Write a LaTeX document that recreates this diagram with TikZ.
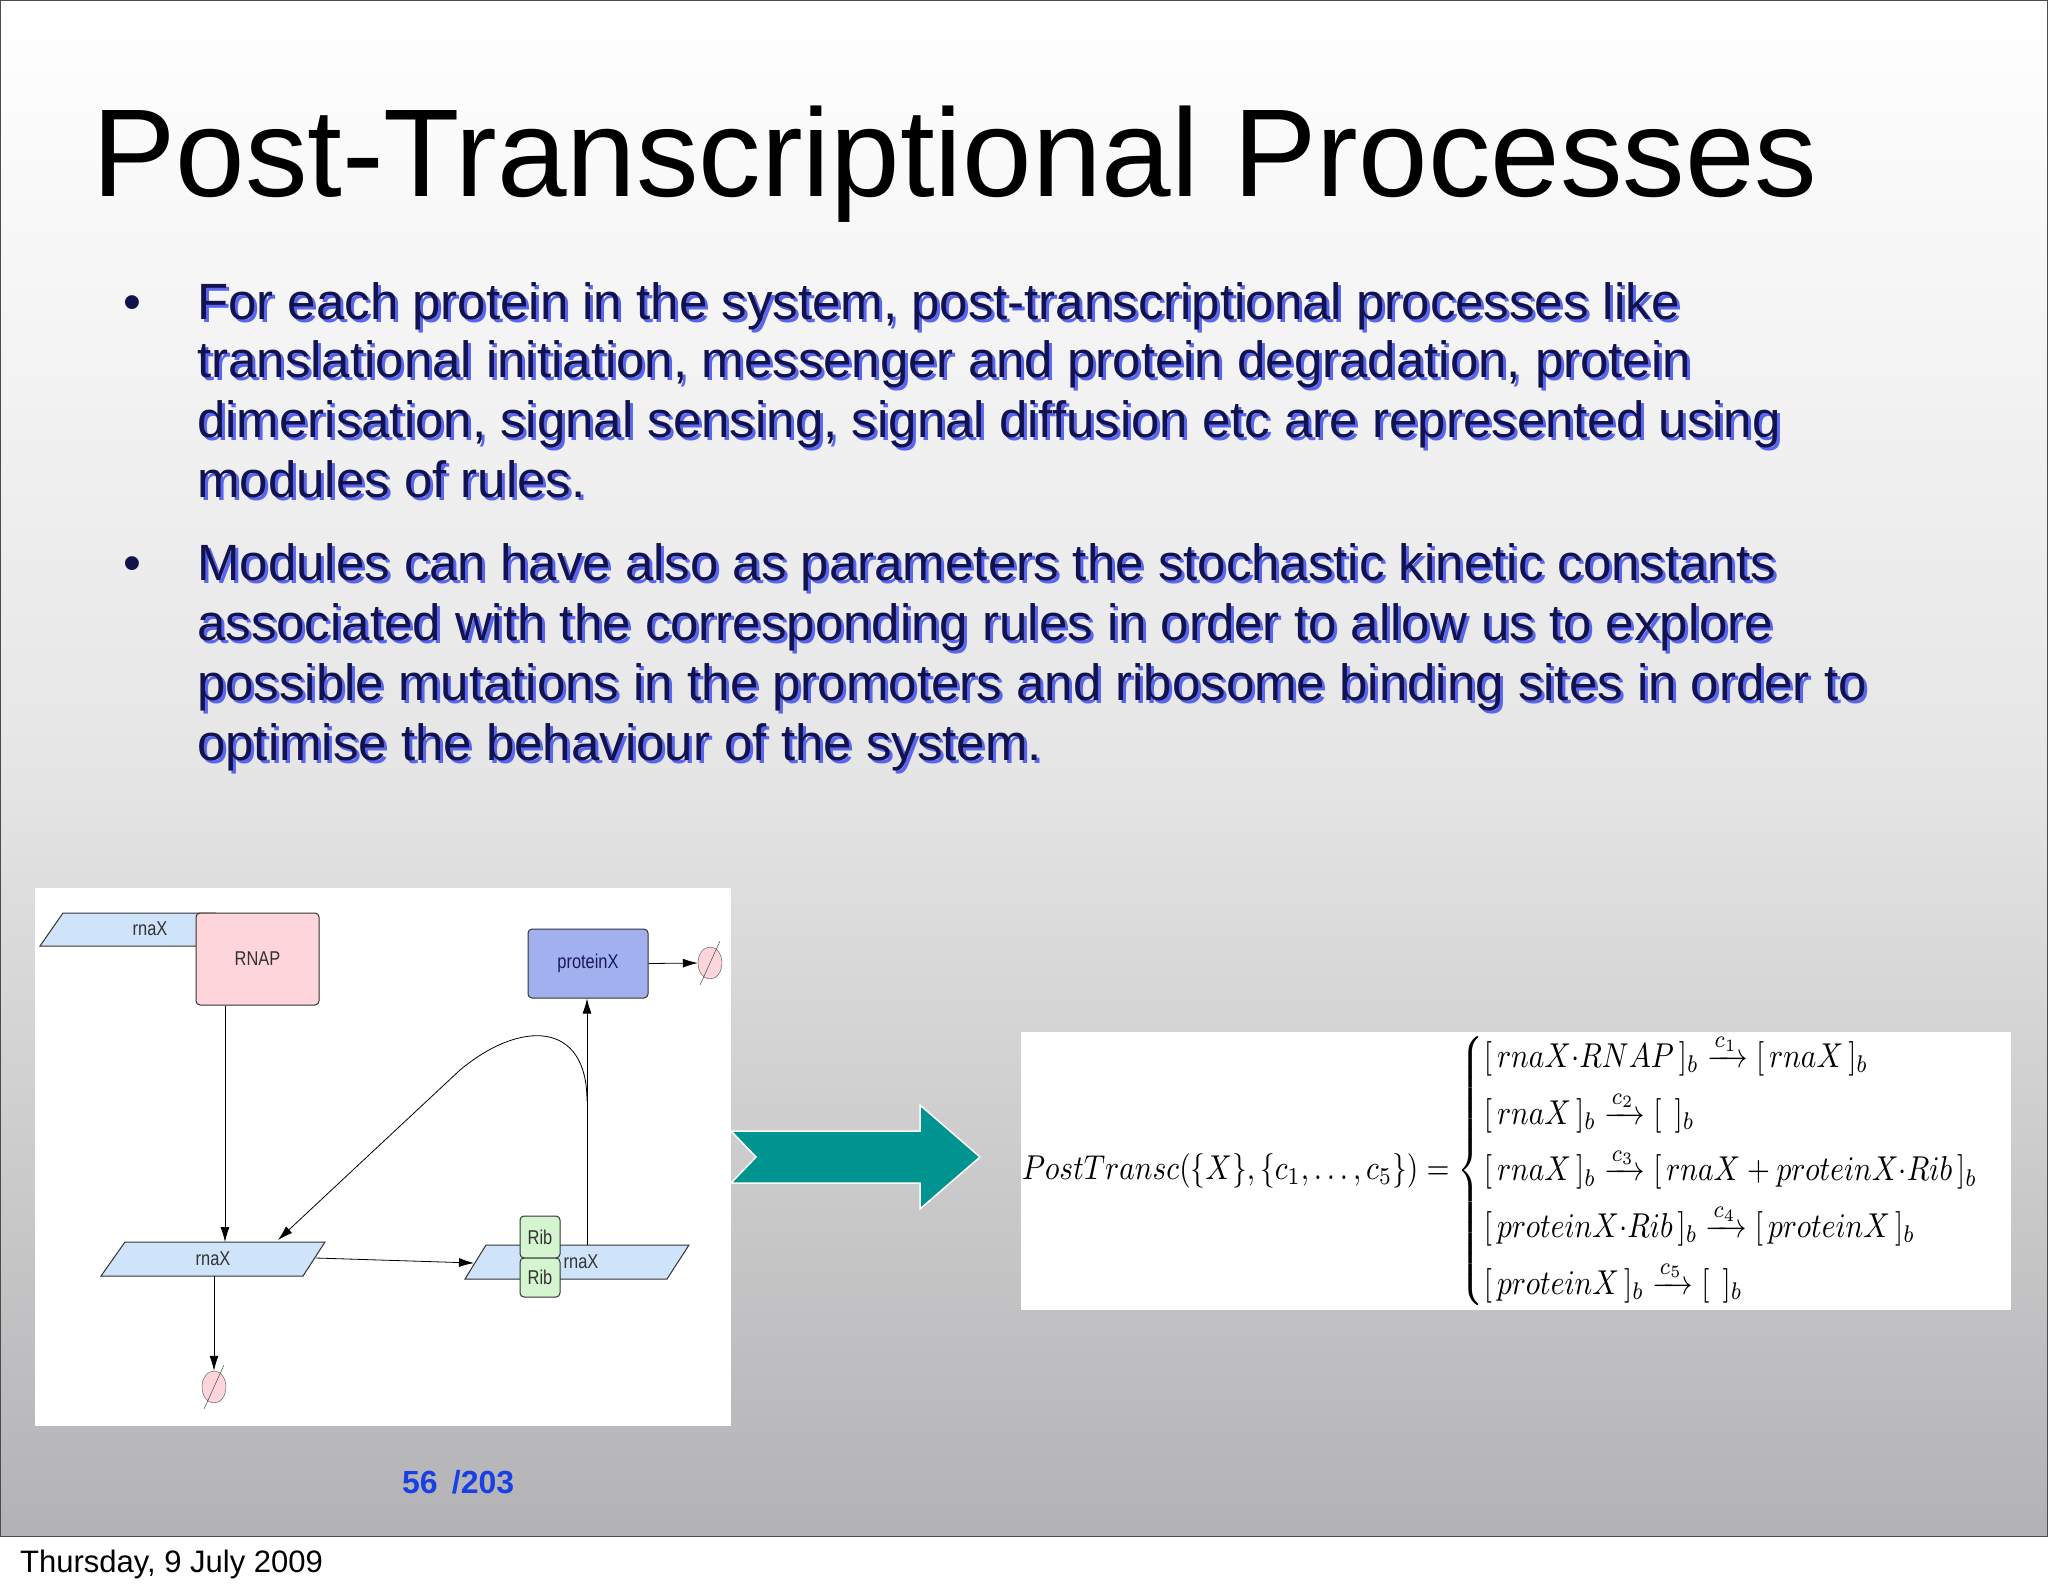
\documentclass[tikz,border=0pt]{standalone}
\usepackage{fontspec}
\usepackage{amsmath}
\setmainfont{Liberation Sans}
\usetikzlibrary{shapes.geometric,arrows.meta}
\definecolor{navy}{rgb}{0.07,0.07,0.3}
\definecolor{shadowblue}{rgb}{0.35,0.4,0.95}
\definecolor{rnacol}{HTML}{CFE3FA}
\definecolor{rnapcol}{HTML}{FDD5DA}
\definecolor{protcol}{HTML}{A3B0F0}
\definecolor{ribcol}{HTML}{D4F5CF}
\definecolor{teal}{HTML}{009490}
\newcommand{\bl}[3]{\node[btxt,text=shadowblue] at (#1+3,#2+3) {#3};\node[btxt] at (#1,#2) {#3};}
\begin{document}
\begin{tikzpicture}[x=1pt,y=-1pt,
  btxt/.style={anchor=base west,inner sep=0,text=navy,font=\fontsize{51}{54}\selectfont},
  lbl/.style={font=\fontsize{20}{22}\selectfont\addfontfeature{FakeStretch=0.82},text=black!80},
  arr/.style={-{Latex[length=15pt,width=9pt]},black,line width=0.8pt},
  box/.style={draw=black!80,line width=1pt,rounded corners=4pt},
  degr/.style={ellipse,draw=black!70,fill=rnapcol,minimum width=24pt,minimum height=32pt,inner sep=0}]
\useasboundingbox (0,0) rectangle (2048,1593);
\fill[white] (0,0) rectangle (2048,1593);
\shade[top color=white,bottom color={rgb,1:red,0.7;green,0.7;blue,0.71},middle color={rgb,1:red,0.9;green,0.9;blue,0.9}] (0,0) rectangle (2048,1536);
\draw[black!70,line width=1pt] (0.5,0.5) rectangle (2047.5,1536);
% title
\node[anchor=base west,inner sep=0,font=\fontsize{125}{130}\selectfont] (title) at (92,196) {Post-Transcriptional Processes};
% bullets
\node[anchor=base,inner sep=0,text=navy,font=\fontsize{51}{54}\selectfont] (b1) at (132,319) {\textbullet};
\node[anchor=base,inner sep=0,text=navy,font=\fontsize{51}{54}\selectfont] (b2) at (132,580) {\textbullet};
\bl{197}{319}{For each protein in the system, post-transcriptional processes like}
\bl{197}{377}{translational initiation, messenger and protein degradation, protein}
\bl{197}{437}{dimerisation, signal sensing, signal diffusion etc are represented using}
\bl{197}{497}{modules of rules.}
\bl{197}{580}{Modules can have also as parameters the stochastic kinetic constants}
\bl{197}{640}{associated with the corresponding rules in order to allow us to explore}
\bl{197}{700}{possible mutations in the promoters and ribosome binding sites in order to}
\bl{197}{760}{optimise the behaviour of the system.}
% diagram panel
\fill[white] (35,888) rectangle (731,1426);
\filldraw[fill=rnacol,draw=black!80,line width=1pt] (40,946) -- (63,913) -- (215,913) -- (200,946) -- cycle;
\node[lbl] (rna1) at (150,929) {rnaX};
\node[box,fill=rnapcol,minimum width=123pt,minimum height=92pt,lbl] (rnap) at (257.5,959) {RNAP};
\node[box,fill=protcol,minimum width=120pt,minimum height=69pt,lbl,text={rgb,1:red,0.1;green,0.1;blue,0.35}] (prot) at (588,963.5) {proteinX};
\node[degr] (d1) at (710,963) {};
\draw[black!80] (700,985) -- (720,941);
\filldraw[fill=rnacol,draw=black!80,line width=1pt] (101,1276) -- (125,1242) -- (325,1242) -- (303,1276) -- cycle;
\node[lbl,minimum width=200pt,minimum height=34pt,inner sep=0] (rna2) at (213,1259) {rnaX};
\filldraw[fill=rnacol,draw=black!80,line width=1pt] (465,1279) -- (486,1245) -- (689,1245) -- (667,1279) -- cycle;
\node[lbl,inner sep=0] (rna3) at (572,1262) {\hspace*{18pt}rnaX};
\node[box,fill=ribcol,minimum width=40pt,minimum height=42pt,lbl,inner sep=0] (rib1) at (540,1237) {Rib};
\node[box,fill=ribcol,minimum width=40pt,minimum height=39pt,lbl,inner sep=0] (rib2) at (540,1277.5) {Rib};
\node[degr] (d2) at (214,1387) {};
\draw[black!80] (204,1409) -- (224,1365);
\coordinate (r3top) at (587,1245);
\coordinate (r2tr) at (316,1258);
\coordinate (r3l) at (474,1263);
\draw[arr] (rnap.south -| 225,0) -- (225,1242);
\draw[arr] (r2tr) -- (r3l);
\draw[arr] (r3top) -- (prot.south -| 587,0);
\draw[arr] (prot.east) -- (d1.west);
\draw[arr] (214,1276) -- (d2.north);
\draw[arr] (587,1101) .. controls (587,1020) and (520,1020) .. (460,1070) -- (278,1240);
% teal arrow
\draw[white,line width=1.5pt,fill=teal] (731,1131) -- (920,1131) -- (920,1105) -- (980,1157) -- (920,1209) -- (920,1183) -- (731,1183) -- (756,1157) -- cycle;
% equation
\fill[white] (1021,1032) rectangle (2011,1310);
\node[inner sep=0,anchor=west] (eq) at (1022,1171) {\resizebox*{988pt}{276pt}{$\displaystyle PostTransc(\{X\},\{c_1,\ldots,c_5\})=\begin{cases}
[\,rnaX{\cdot}RNAP\,]_b \xrightarrow{c_1} [\,rnaX\,]_b\\[2pt]
[\,rnaX\,]_b \xrightarrow{c_2} [\;\,]_b\\[2pt]
[\,rnaX\,]_b \xrightarrow{c_3} [\,rnaX + proteinX{\cdot}Rib\,]_b\\[2pt]
[\,proteinX{\cdot}Rib\,]_b \xrightarrow{c_4} [\,proteinX\,]_b\\[2pt]
[\,proteinX\,]_b \xrightarrow{c_5} [\;\,]_b
\end{cases}$}};
% footer
\node[anchor=base west,inner sep=0,font=\bfseries\fontsize{32}{34}\selectfont,text={rgb,1:red,0.1;green,0.25;blue,0.9}] (page) at (402,1493) {56 \,/203};
\node[anchor=base west,inner sep=0,font=\fontsize{31}{34}\selectfont] (date) at (20,1572) {Thursday, 9 July 2009};
\end{tikzpicture}
\end{document}
